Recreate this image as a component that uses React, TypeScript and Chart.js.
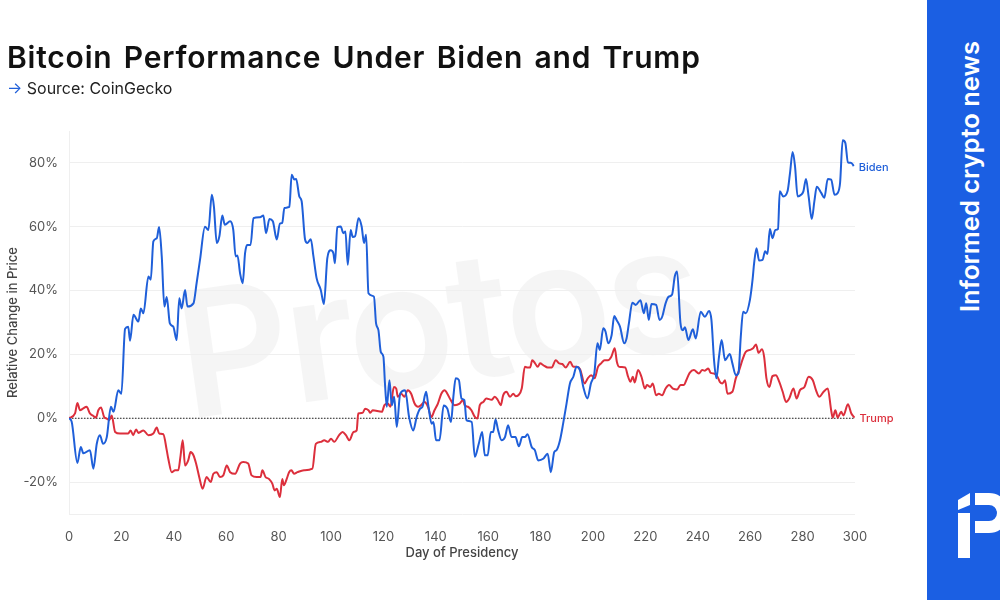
import React, { useEffect, useRef } from "react";
import { Chart, registerables } from "chart.js";

Chart.register(...registerables);

// ---- Data ----
const seriesNames = ["Biden", "Trump"];

const bidenDays = [
  0, 1, 3.2, 4.5, 5.5, 8, 9.3, 10.6, 11.8, 13, 14.4, 16, 17, 18.8, 20, 21.4, 22.6, 23.3, 24.6, 26.5,
  27.4, 28.4, 30.3, 31.2, 32.2, 33.5, 34.4, 35.4, 36.4, 37.3, 38.5, 39.8, 41.1, 42.1, 43, 44.3, 45.2, 47.5, 48.7, 50,
  51.9, 53.2, 54.5, 55.3, 56.4, 57.4, 58.5, 59.5, 61.5, 62.7, 63.6, 64.3, 65.3, 66.3, 67.2, 68, 69.3, 70.4, 72.9, 74.2,
  75.2, 76.5, 77.8, 79.3, 80.5, 81.4, 82.2, 84.1, 85, 86, 86.7, 87.9, 88.8, 90.1, 91, 92.3, 93.3, 94.5, 96.1, 97.3,
  98.6, 99.9, 100.9, 101.5, 102.4, 103.7, 104.7, 105.5, 106.4, 107.5, 108.3, 109.2, 110.5, 111.7, 112.6, 113.4, 114.3, 116.4, 117.2, 118.1,
  119, 120, 120.6, 121.3, 122.3, 123.2, 124.1, 125.1, 126.4, 128.3, 129.8, 131.4, 132.7, 134, 134.9, 136.3, 137.2, 138.4, 139.1, 140.1,
  141.4, 143, 144.4, 145.8, 146.7, 147.6, 148.8, 149.8, 150.9, 151.7, 153.7, 154.9, 156.4, 157.7, 158.7, 159.8, 161, 161.9, 162.8, 163.8,
  165.1, 166.4, 167.6, 168.9, 170.4, 171.7, 173, 174, 175, 176.6, 177.8, 179.1, 181, 182.7, 183.9, 185.2, 186.1, 187.4, 188.6, 189.9,
  191.2, 192.5, 193.7, 195, 196.3, 197.9, 199.2, 200.5, 201.7, 202.6, 203.9, 204.8, 205.8, 207.1, 208.1, 209, 210.3, 211.9, 212.8, 213.7,
  215, 216.3, 218.1, 219.4, 220.3, 221.3, 222.3, 224.1, 225.4, 226.4, 227.7, 228.9, 230.2, 231.2, 232.1, 233.4, 234.3, 235.1, 236.4, 238.1,
  239.2, 241.1, 242.7, 244.3, 245.2, 246.2, 247.1, 248.1, 249.1, 250.4, 252.2, 253.2, 254.5, 255.5, 256.4, 257.3, 258.3, 259.9, 260.9, 261.5,
  262.4, 263.4, 264.7, 265.7, 266.6, 267.5, 268.5, 269.6, 270.6, 271.3, 272.6, 274.3, 275.2, 276.2, 277.1, 278.1, 279.4, 280.3, 281.3, 282.3,
  283.5, 284.5, 285.4, 287.1, 288.3, 289.6, 290.9, 292.2, 293.4, 294.3, 295.3, 296.3, 297.3, 298.6, 299.5,
];
const bidenValues = [
  0, -1, -14, -9, -11, -10, -15.8, -8, -5.3, -8, -6, 3.6, 2, 8.8, 7.7, 28, 28.7, 24.3, 32.4, 30.3,
  34.4, 32.9, 44.4, 43.4, 55.4, 56.4, 59.9, 50.7, 35, 38, 29.7, 28.7, 24.5, 37.6, 34.4, 40.2, 35, 36, 42.3, 49.6,
  60, 59, 70, 66.4, 54.9, 57, 63.5, 60.6, 61.7, 59, 50.7, 51, 45.4, 42.3, 51.7, 54.3, 54.3, 62.7, 63, 63.5,
  58, 62.4, 61.7, 56, 61, 61.2, 65.9, 66.2, 76.3, 74.8, 75, 69.5, 68, 56, 54.9, 56.1, 50.7, 43.9, 40.2, 35.8,
  50.2, 52.6, 51.7, 48.6, 59.9, 60.1, 58, 58.5, 48.1, 59, 56.8, 57, 62.7, 60.1, 54.9, 57.5, 39.2, 38.1, 29.7, 27.6,
  20.8, 19.3, 10.9, 3.6, 11.9, 4.1, 6.7, -2.7, 7.7, 8.8, 0.4, -3.8, 0.4, 3, 3.6, 8.3, 3.6, -1.7, -1.2, -6.9,
  -6.9, 4, 3, -1.2, 6.7, 12.5, 12, 6.2, 5.7, -0.6, -1.2, -12.1, -8, -4.3, -11.6, -11.6, -4.3, -4.3, -0.4, -3.8,
  -6.9, -5.9, -2.2, -5.9, -5.9, -8.8, -5.9, -5.9, -5, -9, -10, -13.2, -12.7, -11.1, -16.9, -10.6, -10, -6.9, -1.7, 4.6,
  10.9, 13, 16.1, 15.1, 9.8, 6.2, 10.9, 14, 23.5, 21.4, 28.2, 27.1, 23.5, 26, 32, 30.8, 28.7, 23.5, 25, 29.7,
  36.2, 35.5, 37, 32.9, 36, 30.8, 35.8, 35.5, 30.8, 31.8, 36, 38.1, 38.8, 44.4, 46, 29.7, 27.6, 28.5, 24.5, 27.9,
  25, 33.4, 31.8, 33.6, 30.8, 18.2, 12.5, 19.3, 24.5, 18.2, 20.1, 17.2, 13.5, 14.1, 25.5, 33.4, 32.9, 37.1, 43.4, 48.6,
  53.3, 49.4, 49.6, 52.3, 51.5, 59.3, 56.4, 59, 59.3, 71.1, 69.5, 71.3, 76.9, 83.4, 79, 69.5, 70, 71.1, 75, 69.5,
  62.4, 68, 72.5, 70.6, 69.1, 75, 74.8, 70, 70.6, 73.7, 87.1, 86.3, 80.2, 80, 79,
];

const trumpDays = [
  0, 2.3, 3.2, 4.2, 5.3, 6.7, 8, 9.3, 10.3, 11.2, 12.2, 13.4, 14.4, 15.4, 16.3, 17.6, 19.5, 22.6, 23.5, 24.5,
  25.6, 26.5, 28.4, 30.3, 32.2, 33.5, 34.4, 36, 37.3, 37.9, 39.2, 40.5, 41.7, 42.6, 43.4, 44.3, 45.5, 46.4, 47.5, 48.5,
  49.7, 51, 52.5, 54.1, 55.1, 56.4, 57.6, 58.9, 60.2, 61.5, 63.4, 65.3, 66.5, 68.4, 69.7, 71.6, 73.1, 73.8, 75, 76.3,
  77.6, 78.5, 79.3, 80.5, 81.4, 82, 83.1, 84, 84.9, 85.9, 87.2, 89.7, 92.9, 94.2, 96.1, 97.4, 98.9, 100, 101.2, 103.1,
  104.4, 105.7, 107, 108.6, 109.8, 110.4, 112.1, 113, 114.3, 115, 115.9, 119.4, 120.4, 121.7, 122.7, 124, 124.9, 125.5, 126.8, 128,
  129.3, 130.6, 131.9, 133.2, 134.4, 135.7, 137, 138.3, 139.5, 140.8, 142.1, 143.4, 144.4, 145.7, 147.2, 149.1, 150.4, 151, 152.3, 153.6,
  154.9, 155.9, 156.8, 158.1, 159.3, 161.3, 162.5, 163.6, 164.8, 165.7, 167, 168.3, 169.6, 170.5, 171.5, 172.8, 174, 175.1, 176, 176.8,
  177.9, 178.9, 179.8, 181.1, 182.7, 184.2, 185.8, 187.1, 188.3, 189.6, 191.3, 192.5, 193.8, 195.1, 196.8, 198, 199.3, 200.6, 201.9, 203.1,
  204.4, 205.7, 207, 208.3, 209.1, 210, 212.3, 213.4, 214.3, 215.2, 215.9, 217.2, 218.5, 219.8, 220.6, 221.9, 222.8, 224.1, 225.1, 226.4,
  227.7, 229, 230.5, 232.1, 233.4, 234.7, 235.6, 236.9, 238.5, 240.4, 241.7, 242.7, 244, 244.9, 246.2, 247.5, 248.4, 249.4, 250.4, 251.3,
  253.2, 254.5, 255.8, 257, 258.3, 259.9, 261.1, 262.2, 263.2, 264.5, 265.3, 266.2, 267.3, 268.5, 269.8, 271.1, 272.4, 273.7, 274.9, 276.5,
  277.7, 279, 280.7, 282.3, 283.9, 285.1, 286.4, 288, 289.6, 290.9, 291.5, 292.5, 293.4, 294.7, 295.6, 297.3, 298.6, 299.8,
];
const trumpValues = [
  0, 1.5, 4.8, 2.5, 3, 3.6, 1.5, 0.7, 0.2, 2.5, 3.4, 0.4, -0.1, -0.6, 0.9, -4.3, -4.8, -4.8, -3.8, -5.3,
  -3.5, -4.6, -3.8, -5.3, -4.8, -2.9, -4.8, -5, -10, -12.7, -16.9, -16.3, -16.3, -11.6, -6.9, -14.8, -13.2, -10.6, -11.6, -14.2,
  -18.4, -22.1, -18.4, -20, -17.4, -16.9, -18.4, -17.9, -14.8, -16.9, -17.4, -14.2, -13.7, -14.2, -17.9, -18.4, -18.4, -16.3, -18.4, -19,
  -20.5, -22.6, -22.1, -24.7, -19, -21, -19, -16.9, -16.3, -17.4, -16.9, -16.3, -15.8, -8, -7.4, -6.9, -7.4, -6.4, -7.4, -5.3,
  -4.3, -5.3, -6.9, -4.3, -3.8, 1.5, 1.7, 3, 2.5, 1.7, 2.5, 2, 4.1, 4.6, 3.6, 9.8, 9.3, 6.7, 7.7, 6.7,
  8.8, 7.7, 4.6, 3.6, 4.1, 5.1, 3.6, 0.4, 2.5, 4.6, 7.7, 8.8, 7.7, 5.7, 4.1, 4.6, 5.7, 4.1, 3.6, 2.5,
  0.4, -0.1, 4.1, 5.1, 6.2, 5.8, 6.7, 5.8, 4.1, 7.2, 8.3, 6.7, 7.7, 6.9, 7.2, 9.3, 16.1, 15.9, 15.9, 18.2,
  17.2, 16.1, 17.2, 16.6, 15.9, 15.9, 18.2, 17.2, 17, 15.9, 17.7, 16.1, 16.1, 15.3, 10.9, 12.5, 13.5, 12.5, 16.1, 17.2,
  18.2, 18.2, 19.3, 21.9, 17.7, 16.1, 15.9, 13, 11.4, 13, 11.2, 15.1, 13, 9.3, 10.4, 9.8, 10.9, 7.2, 7.7, 7.2,
  9.3, 10.4, 9.3, 9, 10.4, 10.4, 11.9, 14.2, 15.1, 14, 15.1, 14.9, 15.6, 14.2, 14, 13, 11.4, 10.9, 11.9, 7.7,
  8.3, 12.5, 15.1, 18.2, 20.8, 21.4, 21.9, 23.1, 20.5, 21.6, 19.3, 12.5, 9.8, 13.2, 13.5, 11.4, 8.3, 5.1, 6.2, 9.3,
  6.2, 8.8, 9.8, 13, 11.9, 8.8, 6.7, 8.3, 9.3, 2.5, 0.2, 2.5, 0.2, 2, 0.9, 4.4, 1.5, 0.2,
];

const xTickValues = [0, 20, 40, 60, 80, 100, 120, 140, 160, 180, 200, 220, 240, 260, 280, 300];
const yTickValues = [-20, 0, 20, 40, 60, 80];

const BLUE = "#1f5fd9";
const RED = "#dc2f3c";
const FONT = "Inter, 'Noto Sans', sans-serif";

const overlayPlugin = {
  id: "overlayPlugin",
  beforeDatasetsDraw(chart: any) {
    const { ctx, chartArea, scales } = chart;
    const y0 = scales.y.getPixelForValue(0);
    ctx.save();
    ctx.setLineDash([1.5, 1.5]);
    ctx.strokeStyle = "#222";
    ctx.lineWidth = 1;
    ctx.beginPath();
    ctx.moveTo(chartArea.left, y0);
    ctx.lineTo(chartArea.right, y0);
    ctx.stroke();
    ctx.restore();
  },
  afterDatasetsDraw(chart: any) {
    const { ctx } = chart;
    chart.data.datasets.forEach((ds: any, i: number) => {
      const meta = chart.getDatasetMeta(i);
      const last = meta.data[meta.data.length - 1];
      if (!last) return;
      ctx.save();
      ctx.fillStyle = ds.borderColor;
      ctx.font = `500 11px ${FONT}`;
      ctx.textBaseline = "middle";
      ctx.textAlign = "left";
      ctx.fillText(ds.label, last.x + 5, last.y + 1.5);
      ctx.restore();
    });
  },
};

export default function App() {
  const canvasRef = useRef<HTMLCanvasElement | null>(null);

  useEffect(() => {
    if (!canvasRef.current) return;
    const bidenData = bidenDays.map((d, i) => ({ x: d, y: bidenValues[i] }));
    const trumpData = trumpDays.map((d, i) => ({ x: d, y: trumpValues[i] }));

    const chart = new Chart(canvasRef.current, {
      type: "line",
      data: {
        datasets: [
          {
            label: seriesNames[0],
            data: bidenData,
            borderColor: BLUE,
            borderWidth: 2,
            pointRadius: 0,
            cubicInterpolationMode: "monotone",
            fill: false,
          },
          {
            label: seriesNames[1],
            data: trumpData,
            borderColor: RED,
            borderWidth: 2,
            pointRadius: 0,
            cubicInterpolationMode: "monotone",
            fill: false,
          },
        ],
      },
      options: {
        animation: false,
        responsive: false,
        devicePixelRatio: 1,
        layout: { padding: { left: 0, right: 145, top: 131, bottom: 39 } },
        plugins: {
          legend: { display: false },
          tooltip: { enabled: false },
        },
        scales: {
          x: {
            type: "linear",
            min: 0,
            max: 300,
            afterFit: (s: any) => {
              s.height = 47;
            },
            afterBuildTicks: (s: any) => {
              s.ticks = xTickValues.map((v) => ({ value: v }));
            },
            grid: { display: false },
            border: { display: false },
            ticks: {
              color: "#555",
              font: { family: FONT, size: 13 },
              padding: 7,
              maxRotation: 0,
            },
            title: {
              display: true,
              text: "Day of Presidency",
              color: "#444",
              font: { family: FONT, size: 13, weight: "500" },
              padding: { top: 0, bottom: 0 },
            },
          },
          y: {
            min: -30,
            max: 90,
            afterFit: (s: any) => {
              s.width = 69;
            },
            afterBuildTicks: (s: any) => {
              s.ticks = [-30, ...yTickValues].map((v) => ({ value: v }));
            },
            grid: {
              color: "#efefef",
              lineWidth: 1,
              drawTicks: false,
            },
            border: { display: true, color: "#efefef" },
            ticks: {
              color: "#555",
              font: { family: FONT, size: 13 },
              padding: 11,
              callback: (v: any) => (Number(v) === -30 ? "" : `${v}%`),
            },
            title: {
              display: true,
              text: "Relative Change in Price",
              color: "#444",
              font: { family: FONT, size: 13, weight: "500" },
              padding: { top: 5, bottom: 0 },
            },
          },
        },
      },
      plugins: [overlayPlugin],
    });
    return () => chart.destroy();
  }, []);

  return (
    <div
      style={{
        position: "absolute",
        left: 0,
        top: 0,
        width: 1000,
        height: 600,
        background: "#fff",
        overflow: "hidden",
        fontFamily: FONT,
      }}
    >
      <div
        style={{
          position: "absolute",
          left: 190,
          top: 268,
          fontSize: 175,
          fontWeight: 600,
          letterSpacing: -4,
          color: "rgba(0,0,0,0.04)",
          transform: "rotate(-8deg)",
          transformOrigin: "0 100%",
          lineHeight: 1,
          whiteSpace: "nowrap",
          userSelect: "none",
        }}
      >
        Protos
      </div>
      <canvas
        ref={canvasRef}
        width={1000}
        height={600}
        style={{ position: "absolute", left: 0, top: 0, width: 1000, height: 600 }}
      />
      <div
        style={{
          position: "absolute",
          left: 7,
          top: 39,
          fontSize: 30,
          fontWeight: 600,
          lineHeight: 1.2,
          color: "#111",
          whiteSpace: "nowrap",
          letterSpacing: 0.8,
          wordSpacing: 3,
        }}
      >
        Bitcoin Performance Under Biden and Trump
      </div>
      <div
        style={{
          position: "absolute",
          left: 7,
          top: 79,
          fontSize: 16,
          lineHeight: 1.2,
          color: "#222",
          whiteSpace: "nowrap",
        }}
      >
        <span style={{ color: "#1f5fd9" }}>→</span> Source: CoinGecko
      </div>
      <div
        style={{
          position: "absolute",
          left: 927,
          top: 0,
          width: 73,
          height: 600,
          background: "#1b5fe3",
        }}
      >
        <div
          style={{
            position: "absolute",
            left: 30,
            top: 312,
            transform: "rotate(-90deg)",
            transformOrigin: "0 0",
            fontSize: 25.5,
            fontWeight: 600,
            color: "#fff",
            whiteSpace: "nowrap",
            lineHeight: 1,
          }}
        >
          Informed crypto news
        </div>
        <svg
          width={73}
          height={600}
          style={{ position: "absolute", left: 0, top: 0 }}
        >
          <polygon points="31,500 43,493 43,505 31,510" fill="#fff" />
          <rect x={31} y={513} width={12} height={45} fill="#fff" />
          <path
            d="M 48 499 H 62 A 14 14 0 0 1 62 527 H 48"
            fill="none"
            stroke="#fff"
            strokeWidth={12}
          />
        </svg>
      </div>
    </div>
  );
}
